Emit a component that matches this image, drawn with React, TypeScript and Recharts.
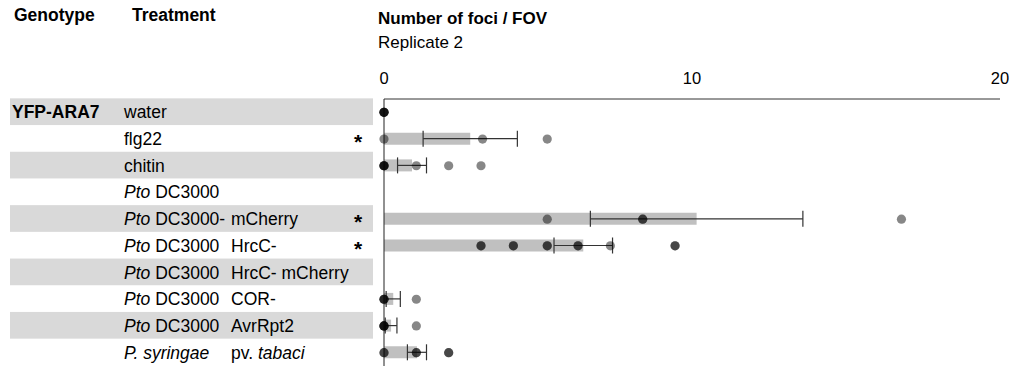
import React from "react"
import { ComposedChart, Bar, Line, XAxis, YAxis, ErrorBar } from "recharts"

const FONT = "'Liberation Sans', Arial, sans-serif"

// treatment labels: first column pieces [text, italic], then second column pieces
const treatmentMain: [string, boolean][][] = [
  [["water", false]],
  [["flg22", false]],
  [["chitin", false]],
  [["Pto", true], [" DC3000", false]],
  [["Pto", true], [" DC3000-", false]],
  [["Pto", true], [" DC3000", false]],
  [["Pto", true], [" DC3000", false]],
  [["Pto", true], [" DC3000", false]],
  [["Pto", true], [" DC3000", false]],
  [["P. syringae", true]],
]
const treatmentExtra: [string, boolean][][] = [
  [],
  [],
  [],
  [],
  [["mCherry", false]],
  [["HrcC-", false]],
  [["HrcC- mCherry", false]],
  [["COR-", false]],
  [["AvrRpt2", false]],
  [["pv. ", false], ["tabaci", true]],
]
const categories = ["water", "flg22", "chitin", "DC3000", "DC3000-mCherry", "HrcC-", "HrcC- mCherry", "COR-", "AvrRpt2", "tabaci"]
const genotype = "YFP-ARA7"
const significance = ["", "*", "", "", "*", "*", "", "", "", ""]

// mean foci per FOV and error (SE)
const means = [0, 2.8, 0.91, null, 10.15, 6.47, null, 0.3, 0.23, 1.07]
const errors = [null, 1.53, 0.47, null, 3.45, 0.95, null, 0.23, 0.19, 0.31]

// individual FOV values (repeated values overlap and look darker)
const points: number[][] = [
  [0, 0, 0, 0],
  [0, 3.2, 5.3],
  [0, 0, 0, 0, 1.05, 2.1, 3.15],
  [],
  [5.3, 8.4, 8.4, 16.8],
  [3.15, 3.15, 4.2, 4.2, 5.3, 5.3, 6.3, 6.3, 7.35, 9.45, 9.45],
  [],
  [0, 0, 0, 1.05],
  [0, 0, 0, 0, 1.05],
  [0, 0, 1.05, 1.05, 2.1, 2.1],
]
const xTicks = [0, 10, 20]

const maxDots = Math.max(...points.map((p) => p.length))
const dotKeys = Array.from({ length: maxDots }, (_, i) => `d${i}`)

const rows = categories.map((name, i) => {
  const row: any = { name, mean: means[i], err: errors[i] }
  dotKeys.forEach((k, j) => {
    row[k] = points[i][j] ?? null
  })
  return row
})

const pieces = (parts: [string, boolean][]) =>
  parts.map(([t, it], j) => (
    <tspan key={j} fontStyle={it ? "italic" : "normal"}>
      {t}
    </tspan>
  ))

const RowTick = (props: any) => {
  const { y, payload } = props
  const i = payload.index
  return (
    <g>
      {i % 2 === 0 && <rect x={10} y={y - 14} width={363} height={26.7} fill="#d9d9d9" />}
      {i === 0 && (
        <text x={12} y={y + 6} fontSize={17.5} fontWeight="bold" fill="#000" fontFamily={FONT}>
          {genotype}
        </text>
      )}
      <text x={124} y={y + 6} fontSize={17.5} fill="#000" fontFamily={FONT} xmlSpace="preserve">
        {pieces(treatmentMain[i])}
      </text>
      {treatmentExtra[i].length > 0 && (
        <text x={231} y={y + 6} fontSize={17.5} fill="#000" fontFamily={FONT} xmlSpace="preserve">
          {pieces(treatmentExtra[i])}
        </text>
      )}
      {significance[i] && (
        <text x={358} y={y + 10} fontSize={21} fontWeight="bold" textAnchor="middle" fill="#000" fontFamily={FONT}>
          {significance[i]}
        </text>
      )}
    </g>
  )
}

const renderDot = (p: any) => {
  const key = `${p.dataKey}-${p.index}`
  if (p.value == null || p.cx == null || isNaN(p.cx)) return <g key={key} />
  return <circle key={key} cx={p.cx} cy={p.cy} r={4.6} fill="#000" fillOpacity={0.47} />
}

export default function App() {
  return (
    <div style={{ position: "absolute", left: 0, top: 0, width: 1013, height: 366, fontFamily: FONT, background: "#fff" }}>
      <div style={{ position: "absolute", left: 14, top: 5, fontSize: 17.5, fontWeight: "bold" }}>Genotype</div>
      <div style={{ position: "absolute", left: 132, top: 5, fontSize: 17.5, fontWeight: "bold" }}>Treatment</div>
      <div style={{ position: "absolute", left: 378, top: 9, fontSize: 17, fontWeight: "bold" }}>Number of foci / FOV</div>
      <div style={{ position: "absolute", left: 378, top: 33, fontSize: 17 }}>Replicate 2</div>
      <ComposedChart
        width={1013}
        height={366}
        layout="vertical"
        data={rows}
        margin={{ top: 69, right: 13, bottom: 0, left: 0 }}
        barCategoryGap={0}
      >
        <XAxis
          type="number"
          orientation="top"
          domain={[0, 20]}
          ticks={xTicks}
          height={30}
          tickLine={false}
          tickSize={6}
          tickMargin={9}
          axisLine={{ stroke: "#333" }}
          tick={{ fontSize: 16.5, fill: "#000", fontFamily: FONT }}
        />
        <YAxis
          type="category"
          dataKey="name"
          width={384}
          interval={0}
          tickLine={false}
          axisLine={{ stroke: "#222" }}
          tick={<RowTick />}
        />
        <Bar dataKey="mean" fill="#c0c0c0" barSize={12} isAnimationActive={false}>
          <ErrorBar dataKey="err" direction="x" width={8} stroke="#333" strokeWidth={1.2} />
        </Bar>
        {dotKeys.map((k) => (
          <Line
            key={k}
            dataKey={k}
            stroke="none"
            dot={renderDot}
            activeDot={false}
            isAnimationActive={false}
          />
        ))}
      </ComposedChart>
    </div>
  )
}
